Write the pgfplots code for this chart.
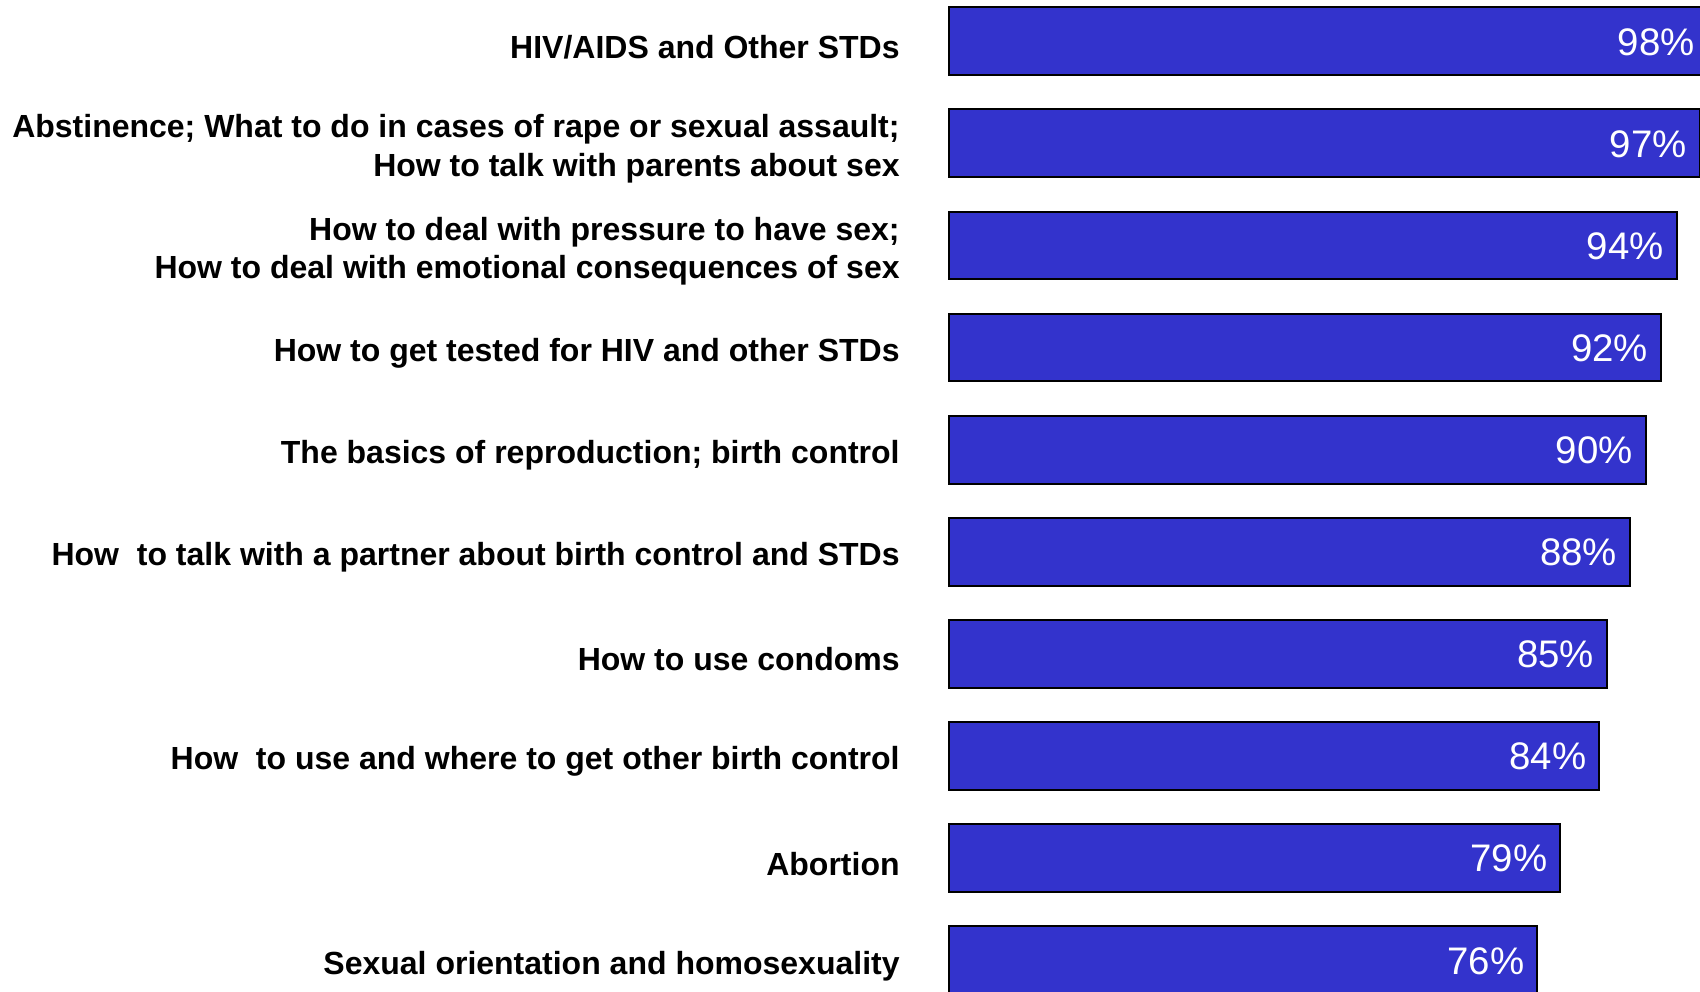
\documentclass[border=0pt]{standalone}
\usepackage{fontspec}
\setmainfont{Liberation Sans}
\usepackage{pgfplots}
\pgfplotsset{compat=1.18}
\definecolor{barblue}{RGB}{51,51,204}
\begin{document}
\begin{tikzpicture}
\useasboundingbox (0,0) rectangle (850pt,495.5pt);
\begin{axis}[
    at={(474.5pt,0pt)}, anchor=south west,
    scale only axis, width=375.5pt, height=495.5pt,
    clip=false,
    xbar, bar width=33.9pt,
    xmin=0, xmax=97.03,
    ymin=-0.4035, ymax=9.302, y dir=reverse,
    axis line style={draw=none},
    major tick length=0pt,
    xtick=\empty,
    ytick={0,...,9},
    yticklabels={
        {HIV/AIDS and Other STDs},
        {Abstinence; What to do in cases of rape or sexual assault;\\How to talk with parents about sex},
        {How to deal with pressure to have sex;\\How to deal with emotional consequences of sex},
        {How to get tested for HIV and other STDs},
        {The basics of reproduction; birth control},
        {How~ to talk with a partner about birth control and STDs},
        {How to use condoms},
        {How~ to use and where to get other birth control},
        {Abortion},
        {Sexual orientation and homosexuality}
    },
    yticklabel style={font=\bfseries\fontsize{16}{19.3}\selectfont, align=right, anchor=east, inner sep=0pt, xshift=-24.5pt, yshift=-2.8pt},
    point meta=x,
    nodes near coords={\pgfmathprintnumber[assume math mode=true]{\pgfplotspointmeta}\%},
    nodes near coords style={anchor=east, inner sep=0pt, xshift=-6pt, yshift=-0.3pt, text=white, font=\fontsize{19.2}{21}\selectfont},
]
\addplot[fill=barblue, draw=black, line width=1pt] coordinates {
    (98,0) (97,1) (94,2) (92,3) (90,4) (88,5) (85,6) (84,7) (79,8) (76,9)
};
\end{axis}
\end{tikzpicture}
\end{document}
